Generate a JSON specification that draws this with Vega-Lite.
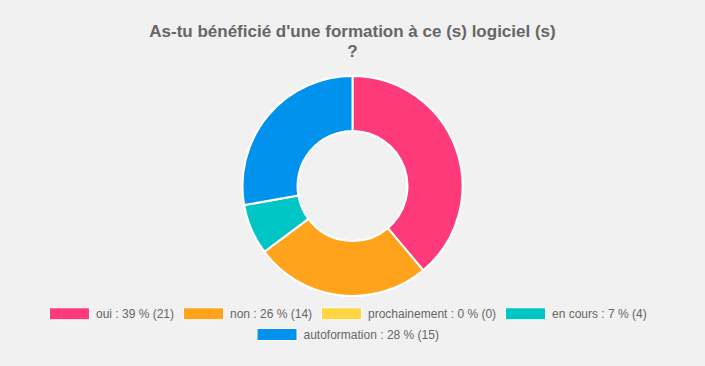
{
  "$schema": "https://vega.github.io/schema/vega-lite/v6.json",
  "width": 705,
  "height": 220,
  "padding": {"top": 23, "left": 0, "right": 0, "bottom": 24},
  "background": "#f1f1f1",
  "title": {
    "text": ["As-tu bénéficié d'une formation à ce (s) logiciel (s)", "?"],
    "font": "Liberation Sans",
    "fontSize": 17,
    "fontWeight": "bold",
    "color": "#666666",
    "lineHeight": 20,
    "offset": 11,
    "anchor": "middle"
  },
  "data": {
    "values": [
      {"label": "oui : 39 % (21)", "n": 21, "rang": 1},
      {"label": "non : 26 % (14)", "n": 14, "rang": 2},
      {"label": "prochainement : 0 % (0)", "n": 0, "rang": 3},
      {"label": "en cours : 7 % (4)", "n": 4, "rang": 4},
      {"label": "autoformation : 28 % (15)", "n": 15, "rang": 5}
    ]
  },
  "encoding": {
    "theta": {"field": "n", "type": "quantitative", "stack": true},
    "order": {"field": "rang", "type": "quantitative"}
  },
  "layer": [
    {
      "mark": {"type": "arc", "outerRadius": 110, "innerRadius": 55, "stroke": "#ffffff", "strokeWidth": 2},
      "encoding": {
        "color": {
          "field": "label",
          "type": "nominal",
          "scale": {
            "domain": ["oui : 39 % (21)", "non : 26 % (14)", "prochainement : 0 % (0)", "en cours : 7 % (4)", "autoformation : 28 % (15)"],
            "range": ["#ff3a7a", "#ffa31c", "#ffd542", "#00c5c5", "#0092ec"]
          },
          "legend": {"values": ["oui : 39 % (21)", "non : 26 % (14)", "prochainement : 0 % (0)", "en cours : 7 % (4)"], "symbolSize": 400}
        }
      }
    },
    {
      "mark": {"type": "arc", "outerRadius": 110, "innerRadius": 55, "stroke": "#ffffff", "strokeWidth": 2},
      "encoding": {
        "fill": {
          "field": "label",
          "type": "nominal",
          "scale": {
            "domain": ["autoformation : 28 % (15)", "oui : 39 % (21)", "non : 26 % (14)", "prochainement : 0 % (0)", "en cours : 7 % (4)"],
            "range": ["#0092ec", "#ff3a7a", "#ffa31c", "#ffd542", "#00c5c5"]
          },
          "legend": {"values": ["autoformation : 28 % (15)"], "symbolSize": 400}
        }
      }
    }
  ],
  "config": {
    "view": {"stroke": null},
    "legend": {
      "orient": "bottom",
      "direction": "horizontal",
      "title": null,
      "labelFont": "Liberation Sans",
      "labelFontSize": 12,
      "labelColor": "#666666",
      "symbolType": "M-2,-0.6H2V0.6H-2Z",
      "symbolSize": 400,
      "symbolStrokeColor": "#ffffff",
      "symbolStrokeWidth": 1,
      "labelOffset": 16,
      "columnPadding": 6,
      "offset": 7,
      "padding": 0,
      "layout": {"bottom": {"anchor": "middle", "direction": "vertical", "center": true, "margin": 2}}
    }
  }
}
